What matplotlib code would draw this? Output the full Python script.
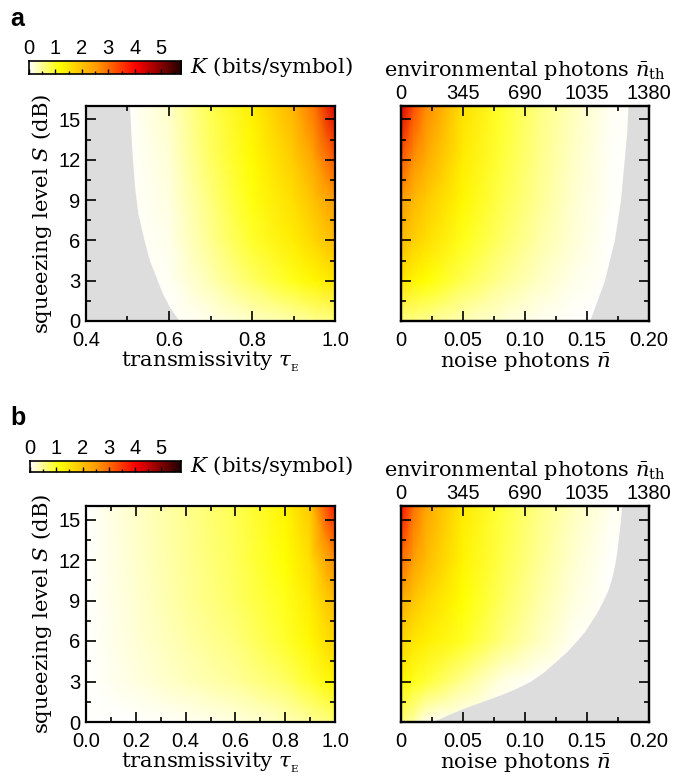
import matplotlib as mpl
import matplotlib.pyplot as plt
import numpy as np
from matplotlib.colors import LinearSegmentedColormap
from matplotlib.ticker import MultipleLocator, FixedLocator

mpl.rcParams.update({
    "font.family": "sans-serif",
    "font.sans-serif": ["Liberation Sans", "DejaVu Sans"],
    "font.serif": ["DejaVu Serif"],
    "mathtext.fontset": "dejavuserif",
    "font.size": 12,
    "axes.linewidth": 1.6,
})

# ---- data ----
# panel a, left: key rate K over transmissivity tau and squeezing S
S_grid = [0, 3, 6, 9, 12, 16]
tau_a = [0.4, 0.5, 0.6, 0.7, 0.8, 0.9, 0.95, 1.0]
K_a_tau = [
    [0, 0, 0.00, 0.10, 0.25, 0.40, 0.50, 0.60],
    [0, 0, 0.05, 0.35, 0.70, 1.05, 1.25, 1.50],
    [0, 0, 0.10, 0.50, 0.95, 1.40, 1.70, 2.10],
    [0, 0, 0.15, 0.60, 1.10, 1.60, 2.00, 2.50],
    [0, 0, 0.20, 0.70, 1.20, 1.85, 2.40, 3.20],
    [0, 0, 0.25, 0.80, 1.35, 2.20, 2.90, 4.30],
]
bnd_a_S = [0, 1, 2, 3, 4.5, 6, 8, 10, 12, 14, 16]
bnd_a_tau = [0.625, 0.602, 0.585, 0.572, 0.553, 0.540, 0.525, 0.517, 0.512, 0.508, 0.505]

# panel a, right: K over noise photons nbar
nbar = [0, 0.01, 0.02, 0.05, 0.08, 0.11, 0.14, 0.17, 0.2]
K_a_n = [
    [0.60, 0.55, 0.50, 0.33, 0.18, 0.08, 0.02, 0, 0],
    [1.50, 1.30, 1.15, 0.80, 0.50, 0.28, 0.10, 0, 0],
    [2.10, 1.80, 1.60, 1.05, 0.70, 0.42, 0.18, 0.02, 0],
    [2.50, 2.15, 1.90, 1.25, 0.82, 0.50, 0.22, 0.03, 0],
    [3.20, 2.65, 2.30, 1.40, 0.90, 0.55, 0.26, 0.04, 0],
    [4.30, 3.30, 2.70, 1.55, 0.98, 0.60, 0.30, 0.05, 0],
]
bnd_an_S = [0, 0.75, 1.5, 3, 4.5, 6, 9, 12, 14, 16]
bnd_an_n = [0.152, 0.155, 0.158, 0.164, 0.168, 0.172, 0.177, 0.180, 0.182, 0.183]

# panel b, left
tau_b = [0.0, 0.2, 0.4, 0.6, 0.8, 0.9, 1.0]
K_b_tau = [
    [0, 0.00, 0.05, 0.15, 0.30, 0.45, 0.65],
    [0, 0.15, 0.30, 0.45, 0.70, 0.95, 1.30],
    [0, 0.20, 0.40, 0.60, 0.95, 1.25, 1.75],
    [0, 0.22, 0.45, 0.70, 1.05, 1.40, 2.10],
    [0, 0.24, 0.48, 0.75, 1.15, 1.60, 2.70],
    [0, 0.25, 0.50, 0.80, 1.30, 1.90, 3.80],
]

# panel b, right
K_b_n = [
    [0.65, 0.40, 0.10, 0, 0, 0, 0, 0, 0],
    [1.25, 1.05, 0.90, 0.50, 0.15, 0, 0, 0, 0],
    [1.75, 1.50, 1.35, 1.00, 0.62, 0.30, 0.05, 0, 0],
    [2.30, 1.95, 1.70, 1.15, 0.75, 0.42, 0.15, 0, 0],
    [3.00, 2.45, 2.10, 1.30, 0.85, 0.50, 0.22, 0.02, 0],
    [3.90, 2.95, 2.40, 1.42, 0.92, 0.57, 0.30, 0.08, 0],
]
bnd_bn_S = [0, 0.5, 1.0, 1.5, 2.0, 2.5, 3.0, 3.7, 4.5, 5.2, 6.0, 6.7, 7.5, 8.2, 9.0,
            9.8, 10.7, 11.5, 12.4, 13.4, 14.4, 16]
bnd_bn_n = [0.025, 0.037, 0.050, 0.065, 0.080, 0.093, 0.104, 0.115, 0.125, 0.1335, 0.1415, 0.148,
            0.1536, 0.1585, 0.163, 0.167, 0.170, 0.172, 0.1737, 0.175, 0.1764, 0.178]

K_max = 5.75
nth_ticks = [0, 345, 690, 1035, 1380]

cmap = LinearSegmentedColormap.from_list(
    "kcmap",
    [(0.0, "#ffffff"), (0.2, "#ffff00"), (0.45, "#ff9600"), (0.7, "#ff0000"), (1.0, "#200000")],
)
GRAY = "#dddddd"
W, H = 686, 781
SERIF = "DejaVu Serif"
TICK_FS = 14.5
LABEL_FS = 15.3


def fig_box(x0, y0, x1, y1):
    return [x0 / W, 1 - y1 / H, (x1 - x0) / W, (y1 - y0) / H]


def style_ticks(ax, top=True):
    ax.tick_params(which="both", direction="in", top=top, right=True, width=1.2, labelsize=TICK_FS)
    ax.tick_params(which="major", length=7)
    ax.tick_params(which="minor", length=3.5)
    ax.tick_params(axis="x", pad=7)
    ax.tick_params(axis="y", pad=4)
    ax.yaxis.set_major_locator(MultipleLocator(3))
    ax.yaxis.set_minor_locator(MultipleLocator(1.5))
    ax.set_ylim(0, 16)


def left_panel(fig, box, tau, K, xlim, major, minor, labels, bnd=None):
    ax = fig.add_axes(box)
    X, Y = np.meshgrid(tau, S_grid)
    ax.pcolormesh(X, Y, np.array(K), shading="gouraud", cmap=cmap, vmin=0, vmax=K_max, rasterized=True)
    if bnd is not None:
        ax.fill_betweenx(bnd[0], xlim[0], bnd[1], color=GRAY, lw=0)
    ax.set_xlim(*xlim)
    style_ticks(ax)
    ax.xaxis.set_major_locator(FixedLocator(major))
    ax.xaxis.set_minor_locator(MultipleLocator(minor))
    ax.set_xticklabels(labels)
    ax.set_xlabel(r"transmissivity $\tau_{_{\rm E}}$", family=SERIF, fontsize=LABEL_FS, labelpad=0)
    ax.set_ylabel(r"squeezing level $S$ (dB)", family=SERIF, fontsize=LABEL_FS, labelpad=3)
    return ax


def right_panel(fig, box, K, bnd):
    ax = fig.add_axes(box)
    X, Y = np.meshgrid(nbar, S_grid)
    ax.pcolormesh(X, Y, np.array(K), shading="gouraud", cmap=cmap, vmin=0, vmax=K_max, rasterized=True)
    ax.fill_betweenx(bnd[0], bnd[1], 0.2, color=GRAY, lw=0)
    ax.set_xlim(0, 0.2)
    style_ticks(ax, top=False)
    ax.set_yticklabels([])
    ax.xaxis.set_major_locator(FixedLocator([0, 0.05, 0.10, 0.15, 0.20]))
    ax.xaxis.set_minor_locator(MultipleLocator(0.025))
    ax.set_xticklabels(["0", "0.05", "0.10", "0.15", "0.20"])
    ax.set_xlabel(r"noise photons $\bar{n}$", family=SERIF, fontsize=LABEL_FS, labelpad=0)
    ax2 = ax.twiny()
    ax2.set_xlim(0, 1380)
    ax2.xaxis.set_major_locator(FixedLocator(nth_ticks))
    ax2.xaxis.set_minor_locator(MultipleLocator(172.5))
    ax2.tick_params(which="both", direction="in", width=1.2, labelsize=TICK_FS, pad=2)
    ax2.tick_params(which="major", length=7)
    ax2.tick_params(which="minor", length=3.5)
    ax2.set_xlabel(r"environmental photons $\bar{n}_{\rm th}$", family=SERIF, fontsize=15, labelpad=6)
    return ax


def colorbar(fig, box, y_text):
    cax = fig.add_axes(box)
    vals = np.linspace(0, K_max, 256)
    cax.imshow(vals[None, :], aspect="auto", cmap=cmap, extent=[0, K_max, 0, 1])
    cax.set_yticks([])
    cax.set_xticks([0, 1, 2, 3, 4, 5])
    cax.xaxis.set_minor_locator(MultipleLocator(0.5))
    # ticks sit on the lower edge, numbers above the bar
    cax.tick_params(which="both", direction="in", top=False, bottom=True,
                    labeltop=True, labelbottom=False, width=1.0, labelsize=TICK_FS, pad=2)
    cax.tick_params(which="major", length=3.5)
    cax.tick_params(which="minor", length=2)
    for s in cax.spines.values():
        s.set_linewidth(1.2)
    fig.text(190 / W, 1 - y_text / H, r"$K$ (bits/symbol)", family=SERIF, fontsize=LABEL_FS, va="center", ha="left")


fig = plt.figure(figsize=(W / 100, H / 100), dpi=100)

# panel a
fig.text(10 / W, 1 - 19 / H, "a", fontsize=18, fontweight="bold", va="center")
colorbar(fig, fig_box(29, 61, 181, 74), 67)
left_panel(fig, fig_box(86, 106, 335, 321), tau_a, K_a_tau, (0.4, 1.0),
           [0.4, 0.6, 0.8, 1.0], 0.1, ["0.4", "0.6", "0.8", "1.0"], (bnd_a_S, bnd_a_tau))
right_panel(fig, fig_box(401, 106, 649, 321), K_a_n, (bnd_an_S, bnd_an_n))

# panel b
fig.text(10 / W, 1 - 418 / H, "b", fontsize=18, fontweight="bold", va="center")
colorbar(fig, fig_box(30, 461, 181, 472), 466)
left_panel(fig, fig_box(86, 506, 335, 722), tau_b, K_b_tau, (0.0, 1.0),
           [0, 0.2, 0.4, 0.6, 0.8, 1.0], 0.1, ["0.0", "0.2", "0.4", "0.6", "0.8", "1.0"])
right_panel(fig, fig_box(401, 506, 649, 722), K_b_n, (bnd_bn_S, bnd_bn_n))

fig.savefig("out.png", dpi=100)
